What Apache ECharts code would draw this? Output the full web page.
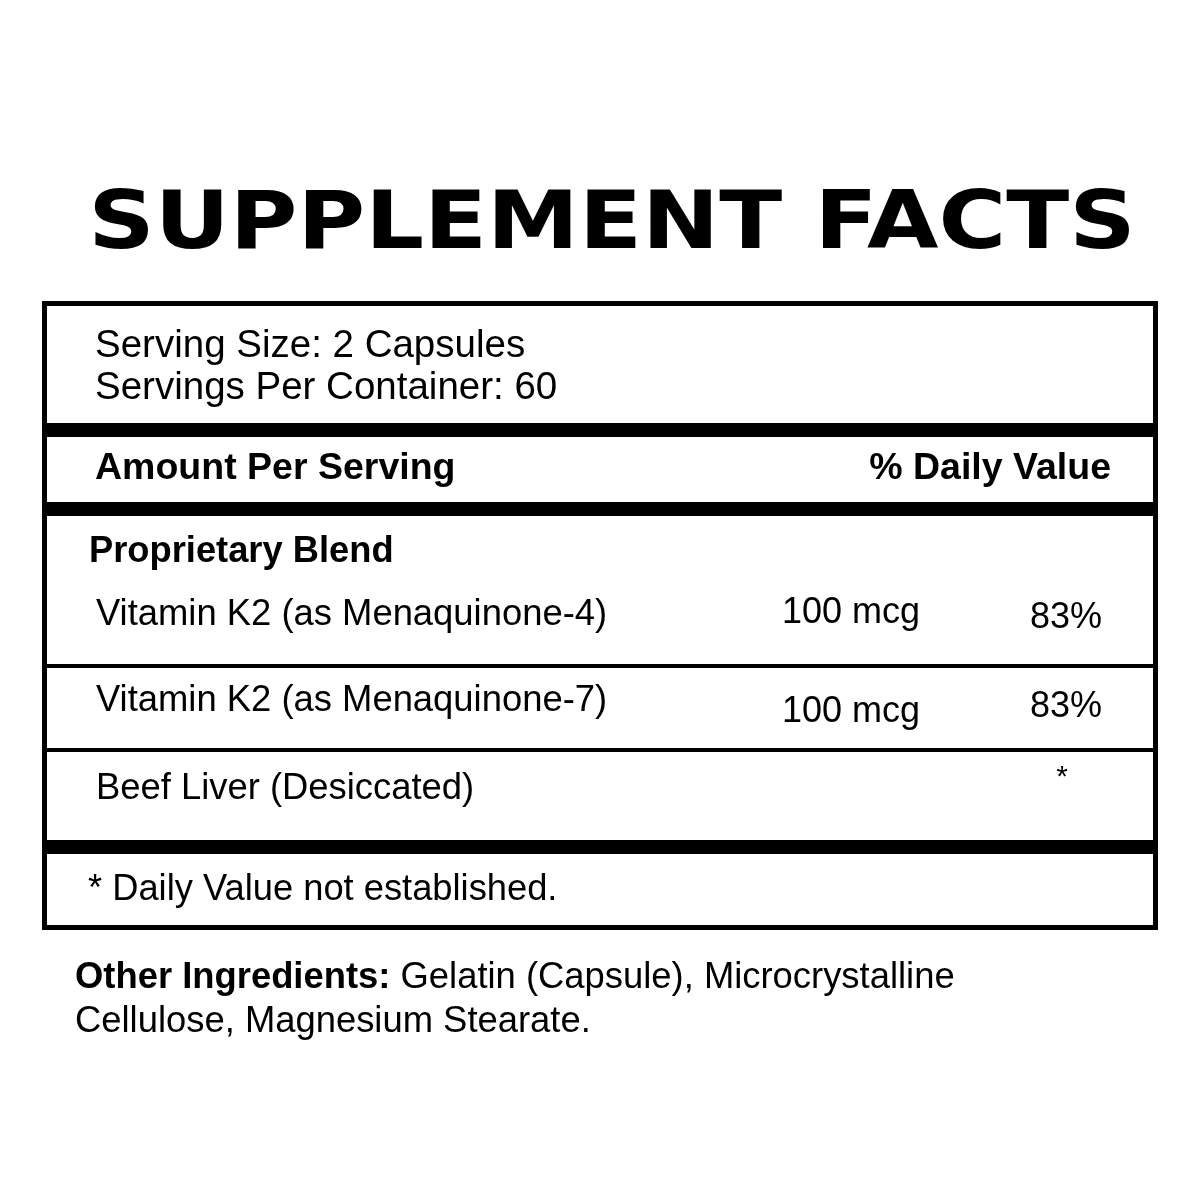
<!DOCTYPE html>
<html><head><meta charset="utf-8">
<script src="https://cdn.jsdelivr.net/npm/echarts@6/dist/echarts.min.js"></script>
<style>html,body{margin:0;padding:0;background:#fff}#c{width:1200px;height:1200px}</style>
</head><body><div id="c"></div>
<script>
const title = "SUPPLEMENT FACTS";
const servingLines = ["Serving Size: 2 Capsules", "Servings Per Container: 60"];
const headerLeft = "Amount Per Serving";
const headerRight = "% Daily Value";
const blendName = "Proprietary Blend";
const rowNames = ["Vitamin K2 (as Menaquinone-4)", "Vitamin K2 (as Menaquinone-7)", "Beef Liver (Desiccated)"];
const rowAmounts = ["100 mcg", "100 mcg", ""];
const rowDV = ["83%", "83%", "*"];
const footnote = "* Daily Value not established.";
const otherLabel = "Other Ingredients:";
const otherText1 = " Gelatin (Capsule), Microcrystalline";
const otherText2 = "Cellulose, Magnesium Stearate.";

const F = "'Liberation Sans', Arial, sans-serif";
const g = [];
function rect(x,y,w,h){g.push({type:'rect',shape:{x,y,width:w,height:h},style:{fill:'#000'}});}
function txt(t,x,y,size,opt={}){g.push({type:'text',x,y,style:Object.assign({text:t,font:(opt.bold?'bold ':'')+size+'px '+F,fill:'#000',textAlign:opt.align||'left',textVerticalAlign:'middle'},opt.style||{})});}

// title
g.push({type:'text',x:612,y:227,scaleX:1.14,style:{text:title,font:'bold 81px "DejaVu Sans", sans-serif',fill:'#000',textAlign:'center',textVerticalAlign:'middle'}});
// box
g.push({type:'rect',shape:{x:44.5,y:303.5,width:1111,height:624},style:{fill:'none',stroke:'#000',lineWidth:5}});
rect(44,423,1112,14);
rect(44,502,1112,14);
rect(44,664,1112,4);
rect(44,748,1112,4);
rect(44,840,1112,14);

txt(servingLines[0],95,346,38.5);
txt(servingLines[1],95,388,38.5);
txt(headerLeft,95,469,37.5,{bold:true});
txt(headerRight,1111,469,37.5,{bold:true,align:'right'});
txt(blendName,89,552,36.3,{bold:true});
const ys=[615,701,789], ay=[613,712,0], dy=[618,707,778];
rowNames.forEach((n,i)=>{
  txt(n,96,ys[i],36.4);
  if(rowAmounts[i]) txt(rowAmounts[i],782,ay[i],36);
  const star = rowDV[i]==='*';
  txt(rowDV[i],star?1062:1102,dy[i],star?30:36,{align:star?'center':'right'});
});
txt(footnote,88,890,36.3);
g.push({type:'text',x:75,y:978,style:{rich:{b:{font:'bold 36.4px '+F,fill:'#000'},n:{font:'36.4px '+F,fill:'#000'}},text:'{b|'+otherLabel+'}{n|'+otherText1+'}',textVerticalAlign:'middle'}});
txt(otherText2,75,1022,36.4);

const chart = echarts.init(document.getElementById('c'));
chart.setOption({backgroundColor:'#fff',graphic:g});
</script></body></html>
